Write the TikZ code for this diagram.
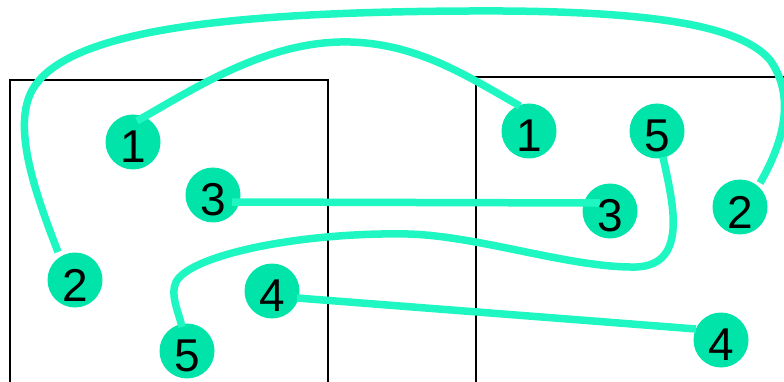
\documentclass[tikz,border=0pt]{standalone}
\usepackage{fontspec}
\setmainfont{Liberation Sans}
\usetikzlibrary{calc}
\definecolor{dotfill}{HTML}{00E3A9}
\definecolor{linkcol}{HTML}{1FF7C2}
\tikzset{
  dot/.style={circle, fill=dotfill, minimum size=55pt, inner sep=0pt},
  digit/.style={inner sep=0pt, font=\fontsize{46}{46}\selectfont},
  conn/.style={draw=linkcol, line width=7.5pt},
  box/.style={draw=black, line width=1.5pt}
}
\begin{document}
\begin{tikzpicture}[x=1pt,y=-1pt]
\useasboundingbox (0,0) rectangle (784,382);
\clip (0,0) rectangle (784,382);
% panels
\draw[box] (10,80) rectangle (328,420);
\draw[box] (476,77) rectangle (820,420);
% circles
\node[dot] (n1L) at (133,142) {};
\node[dot] (n1R) at (529,131) {};
\node[dot] (n2L) at (75,280) {};
\node[dot] (n2R) at (740,207) {};
\node[dot] (n3L) at (213,195) {};
\node[dot] (n3R) at (610,211) {};
\node[dot] (n4L) at (272,291) {};
\node[dot] (n4R) at (721,340) {};
\node[dot] (n5L) at (187,351) {};
\node[dot] (n5R) at (657,131) {};
% connectors
\draw[conn] ($(n1L)+(4,-21)$) .. controls (200,85) and (270,40) .. (350,42)
  .. controls (420,44) and (470,78) .. ($(n1R)+(-9,-25)$);
\draw[conn] ($(n2L)+(-17,-28)$) .. controls (40,205) and (15,140) .. (28,100)
  .. controls (48,35) and (200,12) .. (470,11)
  .. controls (650,10) and (740,25) .. (770,60)
  .. controls (795,95) and (785,140) .. ($(n2R)+(20,-24)$);
\draw[conn] ($(n3L)+(19,7)$) -- ($(n3R)+(-10,-8)$);
\draw[conn] ($(n4L)+(25,7)$) -- ($(n4R)+(-25,-11)$);
\draw[conn] ($(n5R)+(6,26)$) .. controls (672,200) and (690,265) .. (636,267)
  .. controls (570,268) and (480,236) .. (408,234)
  .. controls (300,232) and (190,255) .. (176,282)
  .. controls (170,295) and (178,310) .. ($(n5L)+(-5,-24)$);
% digits
\node[digit] (t1L) at ($(n1L)+(0,5)$) {1};
\node[digit] (t1R) at ($(n1R)+(0,5)$) {1};
\node[digit] (t2L) at ($(n2L)+(0,5)$) {2};
\node[digit] (t2R) at ($(n2R)+(0,5)$) {2};
\node[digit] (t3L) at ($(n3L)+(0,5)$) {3};
\node[digit] (t3R) at ($(n3R)+(0,5)$) {3};
\node[digit] (t4L) at ($(n4L)+(0,5)$) {4};
\node[digit] (t4R) at ($(n4R)+(0,5)$) {4};
\node[digit] (t5L) at ($(n5L)+(0,5)$) {5};
\node[digit] (t5R) at ($(n5R)+(0,5)$) {5};
\end{tikzpicture}
\end{document}
